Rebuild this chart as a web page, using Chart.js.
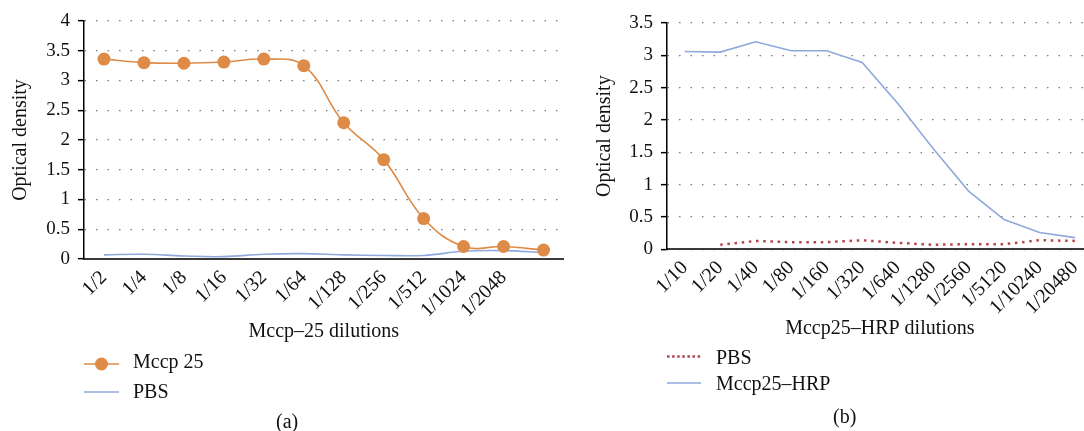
<!DOCTYPE html>
<html><head><meta charset="utf-8">
<script src="https://cdn.jsdelivr.net/npm/chart.js@4/dist/chart.umd.min.js"></script>
<style>
html,body{margin:0;padding:0;width:1084px;height:431px;overflow:hidden;background:#fff;}
.wrap{position:absolute;top:0;}
.txt{position:absolute;font-family:"Liberation Serif","Times New Roman",serif;font-size:20px;line-height:20px;color:#111;white-space:nowrap;}
svg{position:absolute;left:0;top:0;}
</style></head><body>
<div class="wrap" style="left:0;width:570px;height:345px"><canvas id="c1" width="570" height="345"></canvas></div>
<div class="wrap" style="left:585px;width:514px;height:345px"><canvas id="c2" width="514" height="345"></canvas></div>

<svg width="1084" height="431">
  <line x1="84" y1="364" x2="119" y2="364" stroke="#DE8B47" stroke-width="1.6"/>
  <circle cx="101.5" cy="364" r="6.5" fill="#DE8B47"/>
  <line x1="84" y1="392" x2="119" y2="392" stroke="#8EA9DB" stroke-width="1.6"/>
  <line x1="667" y1="356.5" x2="701" y2="356.5" stroke="#B5454A" stroke-width="2.5" stroke-dasharray="2.5 2.6"/>
  <line x1="667" y1="383" x2="701" y2="383" stroke="#8EA9DB" stroke-width="1.6"/>
</svg>
<div class="txt" style="left:133px;top:351px">Mccp 25</div>
<div class="txt" style="left:133px;top:381px">PBS</div>
<div class="txt" style="left:716px;top:347px">PBS</div>
<div class="txt" style="left:716px;top:373px">Mccp25–HRP</div>
<div class="txt" style="left:276px;top:411px">(a)</div>
<div class="txt" style="left:833px;top:406px">(b)</div>

<script>
// ---- data ----
const leftLabels = ['1/2','1/4','1/8','1/16','1/32','1/64','1/128','1/256','1/512','1/1024','1/2048',''];
const mccp25 = [3.36,3.30,3.29,3.31,3.36,3.25,2.29,1.67,0.68,0.21,0.21,0.15];
const pbsLeft = [0.07,0.08,0.05,0.04,0.08,0.09,0.07,0.06,0.06,0.13,0.14,0.11];
const leftYTicks = {min:0,max:4,step:0.5};

const rightLabels = ['1/10','1/20','1/40','1/80','1/160','1/320','1/640','1/1280','1/2560','1/5120','1/10240','1/20480'];
const mccp25HRP = [3.06,3.05,3.21,3.07,3.07,2.89,2.26,1.56,0.90,0.46,0.26,0.18];
const pbsRight = [null,0.07,0.13,0.11,0.11,0.14,0.10,0.07,0.08,0.08,0.14,0.13];
const rightYTicks = {min:0,max:3.5,step:0.5};

// ---- styles ----
const SERIF = '"Liberation Serif","Times New Roman",serif';
const ORANGE = '#DE8B47', BLUE = '#8EA9DB', RED = '#B5454A', TXT = '#111';

function scales(xTitle, yt, xH, yW, yTitlePad){
  return {
    x:{
      offset:true,
      grid:{display:false,drawTicks:false},
      border:{display:true,color:'#3a3a3a',width:2},
      ticks:{autoSkip:false,minRotation:45,maxRotation:45,padding:7,color:TXT,font:{family:SERIF,size:20}},
      title:{display:true,text:xTitle,color:TXT,font:{family:SERIF,size:20},padding:{top:0,bottom:0}},
      afterFit:s=>{s.height=xH;}
    },
    y:{
      min:yt.min,max:yt.max,
      ticks:{stepSize:yt.step,padding:8,color:TXT,font:{family:SERIF,size:19},
             callback:v=>String(Math.round(v*10)/10)},
      grid:{color:'#7a7a7a',lineWidth:1.3,drawTicks:true,tickLength:6,tickColor:'#000',tickWidth:1.5,tickBorderDash:[]},
      border:{display:true,color:'#000',width:1.5,dash:[1.5,10],dashOffset:0},
      title:{display:true,text:'Optical density',color:TXT,font:{family:SERIF,size:20},padding:{top:yTitlePad,bottom:0}},
      afterFit:s=>{s.width=yW;}
    }
  };
}

new Chart(document.getElementById('c1'),{
  type:'line',
  data:{labels:leftLabels,datasets:[
    {label:'Mccp 25',data:mccp25,borderColor:ORANGE,backgroundColor:ORANGE,borderWidth:1.6,
     pointRadius:6.5,pointBackgroundColor:ORANGE,pointBorderColor:ORANGE,pointBorderWidth:0,tension:0.4},
    {label:'PBS',data:pbsLeft,borderColor:BLUE,borderWidth:1.6,pointRadius:0,tension:0.4}
  ]},
  options:{
    responsive:false,animation:false,events:[],
    layout:{padding:{top:21,right:2,bottom:1,left:0}},
    plugins:{legend:{display:false},tooltip:{enabled:false}},
    scales:scales('Mccp–25 dilutions',leftYTicks,85,84,8.5)
  }
});

new Chart(document.getElementById('c2'),{
  type:'line',
  data:{labels:rightLabels,datasets:[
    {label:'PBS',data:pbsRight,borderColor:RED,borderWidth:2.5,borderDash:[2.5,4.7],pointRadius:0,tension:0},
    {label:'Mccp25–HRP',data:mccp25HRP,borderColor:BLUE,borderWidth:1.6,pointRadius:0,tension:0}
  ]},
  options:{
    responsive:false,animation:false,events:[],
    layout:{padding:{top:23,right:0,bottom:4,left:0}},
    plugins:{legend:{display:false},tooltip:{enabled:false}},
    scales:scales('Mccp25–HRP dilutions',rightYTicks,91.7,82,8)
  }
});
</script>
</body></html>
